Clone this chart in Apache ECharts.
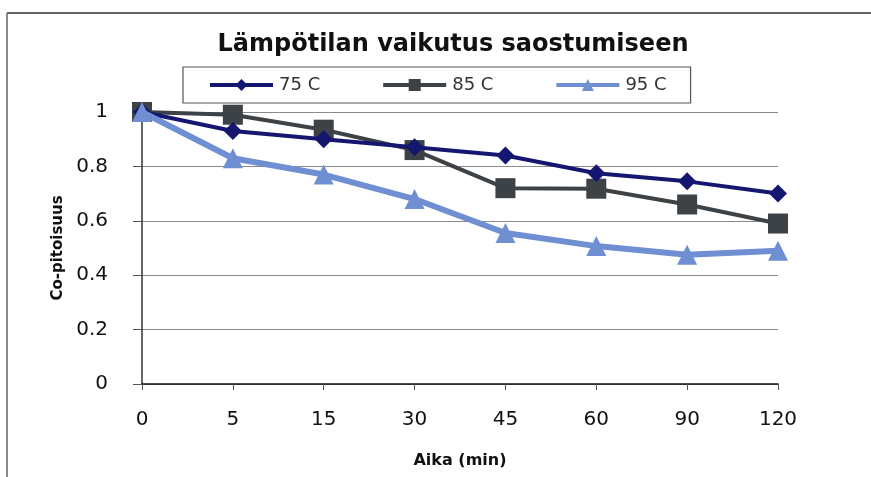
<!DOCTYPE html>
<html><head><meta charset="utf-8">
<script src="https://cdn.jsdelivr.net/npm/echarts@6/dist/echarts.min.js"></script>
<style>html,body{margin:0;padding:0;background:#fff}#c{width:871px;height:477px}</style>
</head><body><div id="c"></div>
<script>
const categories = ['0','5','15','30','45','60','90','120'];
const s75 = [1.0, 0.93, 0.90, 0.87, 0.84, 0.775, 0.745, 0.70];
const s85 = [1.0, 0.99, 0.935, 0.86, 0.72, 0.718, 0.66, 0.59];
const s95 = [1.0, 0.83, 0.77, 0.68, 0.555, 0.507, 0.475, 0.49];
const yTicks = [0, 0.2, 0.4, 0.6, 0.8, 1];

const chart = echarts.init(document.getElementById('c'));
const font = 'DejaVu Sans, sans-serif';
chart.setOption({
  animation: false,
  title: {
    text: 'Lämpötilan vaikutus saostumiseen',
    left: 448, top: 28, textAlign: 'center',
    textStyle: {fontFamily: font, fontSize: 24, fontWeight: 'bold', color: '#111'}
  },
  legend: {
    left: 183, top: 67,
    padding: [9, 24, 9, 25],
    itemGap: 61, itemWidth: 63, itemHeight: 15,
    borderColor: '#555', borderWidth: 1.2,
    lineStyle: {width: 4},
    textStyle: {fontFamily: font, fontSize: 18, color: '#333', padding: [0, 0, 0, 1]},
    data: ['75 C', '85 C', '95 C']
  },
  grid: {left: 142, right: 93, top: 112, bottom: 93, containLabel: false},
  xAxis: {
    type: 'category', data: categories, boundaryGap: false,
    name: 'Aika (min)', nameLocation: 'middle', nameGap: 69,
    nameTextStyle: {fontFamily: font, fontSize: 16, fontWeight: 'bold', color: '#111'},
    axisLine: {lineStyle: {color: '#111', width: 1.5}},
    axisTick: {show: true, alignWithLabel: true, length: 6, lineStyle: {color: '#555'}},
    axisLabel: {fontFamily: font, fontSize: 20, color: '#111', margin: 26}
  },
  yAxis: {
    type: 'value', min: 0, max: 1, interval: 0.2,
    name: 'Co-pitoisuus', nameLocation: 'middle', nameGap: 76,
    nameTextStyle: {fontFamily: font, fontSize: 15, fontWeight: 'bold', color: '#111'},
    axisLine: {show: true, lineStyle: {color: '#333', width: 1.5}},
    axisTick: {show: true, length: 9, lineStyle: {color: '#555'}},
    axisLabel: {fontFamily: font, fontSize: 20, color: '#111', margin: 34,
      formatter: v => String(+v.toFixed(1))},
    splitLine: {lineStyle: {color: '#8a8a8a', width: 1}}
  },
  graphic: [
    {type: 'line', shape: {x1: 7, y1: 13, x2: 871, y2: 13}, style: {stroke: '#666', lineWidth: 2}},
    {type: 'line', shape: {x1: 7, y1: 13, x2: 7, y2: 477}, style: {stroke: '#666', lineWidth: 1.5}}
  ],
  series: [
    {name: '75 C', type: 'line', data: s75, symbol: 'diamond', symbolSize: 18,
      lineStyle: {color: '#141670', width: 4}, itemStyle: {color: '#141670'}, z: 3},
    {name: '85 C', type: 'line', data: s85, symbol: 'rect', symbolSize: 20,
      lineStyle: {color: '#3d4246', width: 4}, itemStyle: {color: '#3d4246'}, z: 2},
    {name: '95 C', type: 'line', data: s95, symbol: 'triangle', symbolSize: 20,
      lineStyle: {color: '#6f8fd2', width: 6}, itemStyle: {color: '#6f8fd2'}, z: 4}
  ]
});
</script></body></html>
